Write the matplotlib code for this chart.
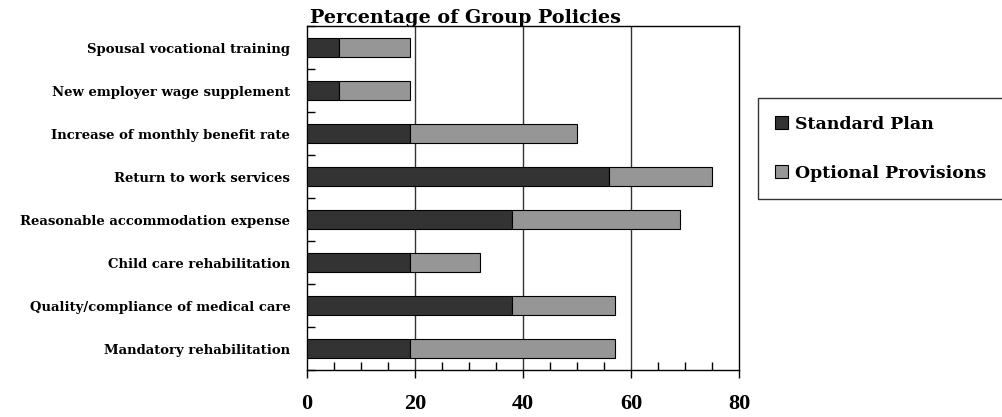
import matplotlib.pyplot as plt
import numpy as np
from matplotlib.ticker import MultipleLocator, FixedLocator

# Categories listed bottom to top
categorias = ['Mandatory rehabilitation',
              'Quality/compliance of medical care',
              'Child care rehabilitation',
              'Reasonable accommodation expense',
              'Return to work services',
              'Increase of monthly benefit rate',
              'New employer wage supplement',
              'Spousal vocational training']
standard_plan = [19, 38, 19, 38, 56, 19, 6, 6]
optional_prov = [38, 19, 13, 31, 19, 31, 13, 13]
xticks = [0, 20, 40, 60, 80]

plt.rcParams['font.family'] = ['DejaVu Serif']
plt.rcParams['font.weight'] = 'bold'

fig = plt.figure(figsize=(10.02, 4.17), dpi=100)
ax = fig.add_axes([0.3064, 0.1127, 0.7375 - 0.3064, 0.9376 - 0.1127])

y = np.arange(len(categorias))
ax.barh(y, standard_plan, height=0.42, color='#333333', edgecolor='black',
        linewidth=0.8, label='Standard Plan', zorder=3)
ax.barh(y, optional_prov, left=standard_plan, height=0.42, color='#969696',
        edgecolor='black', linewidth=0.8, label='Optional Provisions', zorder=3)

ax.set_xlim(0, 80)
ax.set_ylim(-0.5, len(categorias) - 0.5)

# lineas verticales en 20, 40 y 60
for v in xticks[1:-1]:
    ax.axvline(v, color='#333333', linewidth=1.0, zorder=1)

ax.set_xticks(xticks)
ax.set_xticklabels([str(v) for v in xticks], fontsize=16, fontweight='bold',
                   family='Liberation Serif')
ax.xaxis.set_minor_locator(MultipleLocator(5))
ax.tick_params(axis='x', which='major', direction='out', length=6, width=1, pad=11)
ax.tick_params(axis='x', which='minor', direction='in', length=6, width=1)

ax.set_yticks(y)
ax.set_yticklabels(categorias, fontsize=9.5, fontweight='bold')
ax.tick_params(axis='y', which='major', length=0, pad=12)
ax.yaxis.set_minor_locator(FixedLocator(np.arange(-0.5, len(categorias), 1.0)))
ax.tick_params(axis='y', which='minor', direction='in', length=6, width=1)

for s in ax.spines.values():
    s.set_linewidth(1.0)

fig.text(0.309, 1 - 23 / 417, 'Percentage of Group Policies', fontsize=13.8,
         fontweight='bold', ha='left', va='baseline')

leg = fig.legend(loc='lower left', bbox_to_anchor=(758 / 1002, 1 - 199 / 417),
                 fontsize=12.5, frameon=True, fancybox=False, edgecolor='black',
                 handlelength=0.75, handleheight=0.75, handletextpad=0.4,
                 labelspacing=1.85, borderpad=1.0, borderaxespad=0)
leg.get_frame().set_linewidth(1.0)

fig.savefig('out.png', dpi=100)
